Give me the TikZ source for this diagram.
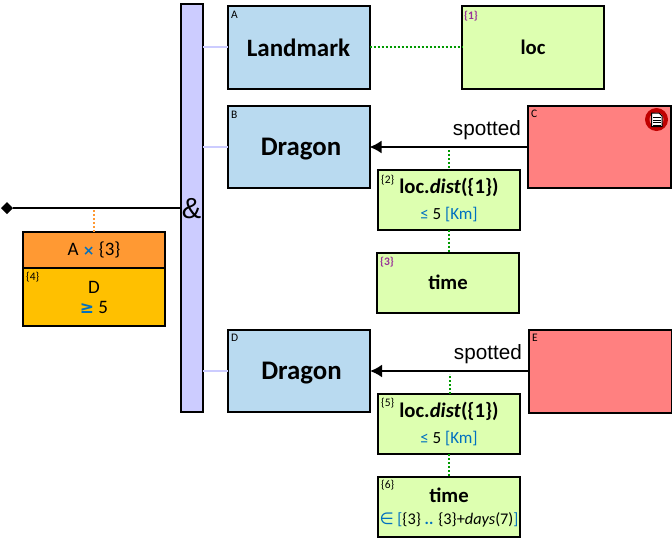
\documentclass[tikz,border=0pt]{standalone}
\usepackage{fontspec}
\setmainfont{Carlito}
\newfontfamily\arialfont{Liberation Sans}
\newfontfamily\symfont{DejaVu Sans}
\usetikzlibrary{arrows.meta,shapes.geometric}
\definecolor{barfill}{HTML}{CCCCFF}
\definecolor{blueent}{HTML}{B9DAF0}
\definecolor{redent}{HTML}{FF8080}
\definecolor{greenent}{HTML}{DDFFB0}
\definecolor{orangebox}{HTML}{FF9933}
\definecolor{amberbox}{HTML}{FFC000}
\definecolor{opblue}{HTML}{0070C0}
\definecolor{refpurple}{HTML}{993399}
\definecolor{dotgreen}{HTML}{009900}
\definecolor{dotorange}{HTML}{FF9933}
\definecolor{stopred}{HTML}{C00000}
\tikzset{
  x=1pt,y=-1pt,
  framed/.style={draw=black,line width=2pt,outer sep=0pt,inner sep=0pt,anchor=north west,align=center},
  entity/.style={framed,fill=blueent,minimum width=142pt,minimum height=82pt,text depth=0pt,font=\fontsize{25}{27}\selectfont\bfseries},
  bigname/.style={font=\fontsize{26.8}{29}\selectfont\bfseries},
  actor/.style={framed,fill=redent,minimum width=142.5pt,minimum height=82pt},
  attr/.style={framed,fill=greenent,minimum width=142pt,font=\fontsize{20.7}{23}\selectfont\bfseries},
  tag/.style={inner sep=0pt,anchor=north west,font=\fontsize{11.5}{12}\selectfont},
  reftag/.style={tag,text=refpurple,font=\fontsize{11.5}{12}\selectfont\bfseries},
  role/.style={inner sep=0pt,anchor=base east,font=\arialfont\fontsize{20.7}{22}\selectfont},
  joinline/.style={draw=barfill,line width=2pt},
  dotlink/.style={draw=dotgreen,line width=2pt,dash pattern=on 2pt off 2pt},
  mainline/.style={draw=black,line width=2pt},
  relation/.style={mainline,-{Latex[length=12pt,width=13pt]}},
}
\newcommand{\op}[1]{\textcolor{opblue}{#1}}
\newcommand{\subfont}[1]{\mdseries\fontsize{#1}{#1}\selectfont}
\begin{document}
\begin{tikzpicture}
\useasboundingbox (0,0) rectangle (672,539);

% conjunction bar
\node[framed,fill=barfill,minimum width=22pt,minimum height=408pt] (bar) at (180.5,4) {};
\node[font=\arialfont\fontsize{29}{30}\selectfont,inner sep=0pt] (amp) at (191.5,209) {\&};

% first row
\node[entity,minimum height=82.5pt] (landmark) at (227.5,6) {Landmark};
\node[attr,minimum height=82.5pt] (loc) at (462,6) {loc};
\node[tag] (tagA) at (231,11) {A};
\node[reftag] (tag1) at (464,11) {\{1\}};

% second group
\node[entity,bigname] (dragonB) at (227.5,106) {\hspace{5pt}Dragon};
\node[actor] (spotterC) at (528,106) {};
\node[attr,minimum height=59.5pt] (distB) at (378,170) {loc.\textit{dist}(\{1\})\\[3pt]{\subfont{17}\op{≤} 5 \op{[Km]}}};
\node[attr,minimum height=59.5pt] (timeB) at (377,253) {time};
\node[tag] (tagB) at (231,111) {B};
\node[tag] (tagC) at (531,110) {C};
\node[tag] (tag2) at (381,175) {\{2\}};
\node[reftag] (tag3) at (380,257) {\{3\}};

% note marker in the corner of C
\coordinate (mark) at (656.5,119.5);
\fill[stopred] (mark) circle (11.5);
\fill[redent] (mark) circle (7);
\fill[white] (651.5,113) -- (659,113) -- (662,116) -- (662,126.5) -- (651.5,126.5) -- cycle;
\draw[black,line width=1pt] (651.5,113) -- (659,113) -- (662,116) -- (662,126.5) -- (651.5,126.5) -- cycle;
\draw[black,line width=1pt] (653,117.5) -- (660.5,117.5) (653,120) -- (660.5,120) (653,122.5) -- (660.5,122.5) (653,125) -- (660.5,125);

% third group
\node[entity,bigname,minimum height=82pt] (dragonD) at (228,330) {\hspace{5pt}Dragon};
\node[actor,minimum height=83pt] (spotterE) at (529,330) {};
\node[attr,minimum height=60pt] (distD) at (378,394) {loc.\textit{dist}(\{1\})\\[3pt]{\subfont{17}\op{≤} 5 \op{[Km]}}};
\node[attr,minimum height=59.5pt] (timeD) at (378,477) {\rule{0pt}{17pt}time\\[-1pt]{\subfont{16.3}{\symfont\op{∈}} \op{[}\{3\} \op{\bfseries ..} \{3\}+\textit{days}(7)\op{]}}};
\node[tag] (tagD) at (231,334) {D};
\node[tag] (tagE) at (532,334) {E};
\node[tag] (tag5) at (381,398) {\{5\}};
\node[tag] (tag6) at (381,480) {\{6\}};

% aggregate on the left
\node[framed,fill=orangebox,minimum width=142pt,minimum height=36pt,font=\fontsize{19}{21}\selectfont] (aggHead) at (23,232) {A \textcolor{opblue}{\symfont\bfseries\fontsize{14}{14}\selectfont ×} \{3\}};
\node[framed,fill=amberbox,minimum width=142pt,minimum height=58pt,font=\fontsize{19}{20}\selectfont] (aggBody) at (23,268) {D\\\op{\symfont\bfseries\fontsize{17}{18}\selectfont ≥} 5};
\node[tag] (tag4) at (26,272) {\{4\}};

% root of the query
\node[diamond,fill=black,inner sep=0pt,minimum width=12pt,minimum height=12pt,outer sep=0pt] (root) at (7,208) {};
\coordinate (barIn) at (bar.west |- root);
\draw[mainline] (root) -- (barIn);
\coordinate (rootDrop) at (aggHead.north |- root);
\draw[draw=dotorange,line width=2pt,dash pattern=on 2pt off 2pt] (rootDrop) ++(0,2) -- (aggHead.north);

% joins from the bar to each entity
\foreach \ent in {landmark,dragonB,dragonD}
  \draw[joinline] (\ent.west) -- (\ent.west -| bar.east);

% dotted attribute links
\draw[dotlink] (landmark.east) -- (loc.west);
\coordinate (midB) at (distB.north |- spotterC.west);
\draw[dotlink] (midB) ++(0,3) -- (distB.north);
\draw[dotlink] (distB.south) -- (timeB.north -| distB.south);
\draw[dotlink] (distD.north) ++(1,0) -- ++(0,-20);
\draw[dotlink] (distD.south) -- (timeD.north);

% relations
\draw[relation] (spotterC.west) -- (dragonB.east);
\draw[relation] (spotterE.west |- dragonD.east) -- (dragonD.east);
\node[role] (roleC) at (521,135) {spotted};
\node[role] (roleE) at (522,359) {spotted};
\end{tikzpicture}
\end{document}
